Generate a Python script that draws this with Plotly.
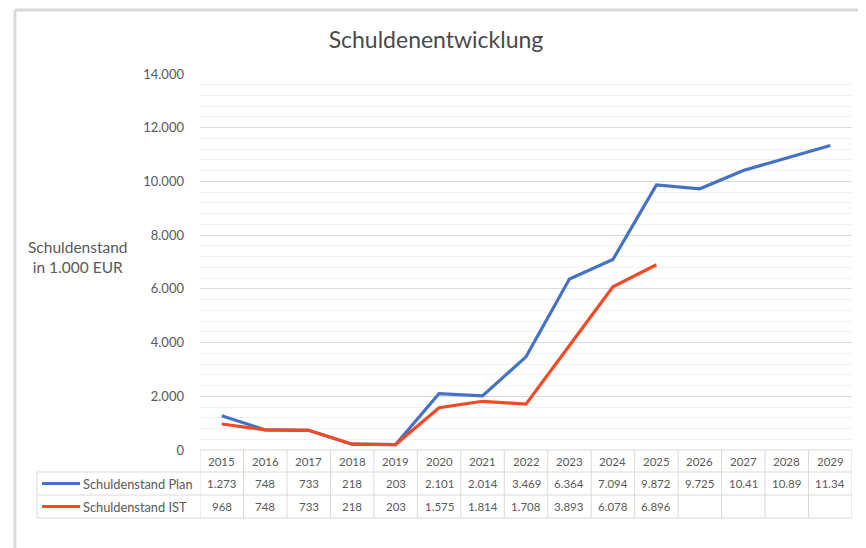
import plotly.graph_objects as go

years = [2015, 2016, 2017, 2018, 2019, 2020, 2021, 2022, 2023, 2024, 2025, 2026, 2027, 2028, 2029]
plan = [1273, 748, 733, 218, 203, 2101, 2014, 3469, 6364, 7094, 9872, 9725, 10410, 10890, 11340]
ist = [968, 748, 733, 218, 203, 1575, 1814, 1708, 3893, 6078, 6896]
series_names = ["Schuldenstand Plan", "Schuldenstand IST"]
title_text = "Schuldenentwicklung"
ytitle = "Schuldenstand<br>in 1.000 EUR"

# page has an 8px body margin; work in page pixel coordinates
OFF = 8
W, H = 866 - OFF, 548 - OFF
PL, PR, PT, PB = 200, 852, 74, 450  # plot area in page coords
FONT = "Lato, Calibri, Carlito, sans-serif"
TXT = "#595959"
GRID = "#d9d9d9"
BLUE = "#4472C4"
RED = "#F24A24"

def px(xp):
    return (xp - PL) / (PR - PL)

def py(yp):
    return (PB - yp) / (PB - PT)

def fmt(v):
    s = f"{v:,}".replace(",", ".")
    return s[:5]

cats = [str(y) for y in years]
idx = list(range(len(years)))

fig = go.Figure()
fig.add_trace(go.Scatter(x=idx, y=plan, mode="lines", name=series_names[0],
                         line=dict(color=BLUE, width=3.2)))
fig.add_trace(go.Scatter(x=idx[:len(ist)], y=ist, mode="lines", name=series_names[1],
                         line=dict(color=RED, width=3.2)))

shapes = []
annots = []
line_style = dict(color=GRID, width=1)
shapes.append(dict(type="line", xref="paper", yref="paper", x0=0, x1=1, y0=py(450), y1=py(450), line=line_style, layer="below"))
for yy in [472, 495, 518]:
    shapes.append(dict(type="line", xref="paper", yref="paper", x0=px(37), x1=1, y0=py(yy), y1=py(yy), line=line_style))
for i in range(len(years) + 1):
    shapes.append(dict(type="line", xref="x", yref="paper", x0=i - 0.5, x1=i - 0.5, y0=py(450), y1=py(518), line=line_style))
shapes.append(dict(type="line", xref="paper", yref="paper", x0=px(37), x1=px(37), y0=py(472), y1=py(518), line=line_style))

row_y = [py(461), py(483.5), py(506.5)]
tfont = dict(size=11.5, color=TXT, family=FONT)
for i, c in enumerate(cats):
    annots.append(dict(x=i, y=row_y[0], xref="x", yref="paper", text=c, showarrow=False,
                       yanchor="middle", font=tfont))
for i, v in enumerate(plan):
    annots.append(dict(x=i, y=row_y[1], xref="x", yref="paper", text=fmt(v), showarrow=False,
                       yanchor="middle", font=tfont))
for i, v in enumerate(ist):
    annots.append(dict(x=i, y=row_y[2], xref="x", yref="paper", text=fmt(v), showarrow=False,
                       yanchor="middle", font=tfont))
for k, (nm, col) in enumerate(zip(series_names, [BLUE, RED])):
    yk = row_y[k + 1]
    shapes.append(dict(type="line", xref="paper", yref="paper", x0=px(42), x1=px(80), y0=yk, y1=yk,
                       line=dict(color=col, width=3.2)))
    annots.append(dict(x=px(81), y=yk, xref="paper", yref="paper", text=nm, showarrow=False,
                       xanchor="left", yanchor="middle", font=dict(size=12.8, color=TXT, family=FONT)))
annots.append(dict(x=px(78), y=py(257), xref="paper", yref="paper", text=ytitle, showarrow=False,
                   xanchor="center", yanchor="middle",
                   font=dict(size=15.5, color=TXT, family=FONT), align="center"))
frame = dict(color="#d9d9d9", width=3)
shapes.append(dict(type="line", xref="paper", yref="paper", x0=px(15), x1=px(862), y0=py(10), y1=py(10), line=frame))
shapes.append(dict(type="line", xref="paper", yref="paper", x0=px(15), x1=px(15), y0=py(10), y1=py(560), line=frame))
shapes.append(dict(type="line", xref="paper", yref="paper", x0=px(862), x1=px(862), y0=py(10), y1=py(560), line=frame))

fig.update_layout(
    width=W, height=H,
    margin=dict(l=PL - OFF, r=W - (PR - OFF), t=PT - OFF, b=H - (PB - OFF), pad=0),
    paper_bgcolor="white", plot_bgcolor="white",
    separators=",.",
    showlegend=False,
    title=dict(text=title_text, x=(436 - OFF) / W, xref="container", xanchor="center",
               y=1 - (40 - OFF) / H, yanchor="middle", font=dict(size=23, color="#4a4a4a", family=FONT)),
    font=dict(family=FONT, color=TXT),
    shapes=shapes, annotations=annots,
)
fig.update_xaxes(range=[-0.5, len(years) - 0.5], showticklabels=False, showgrid=False,
                 zeroline=False, showline=False, fixedrange=True)
fig.update_yaxes(range=[0, 14000], dtick=2000, tickformat=",d", showgrid=True, gridcolor=GRID, gridwidth=1,
                 zeroline=False, showline=False, ticks="", ticklabelstandoff=15,
                 tickfont=dict(size=13, color=TXT, family=FONT),
                 minor=dict(dtick=400, showgrid=True, gridcolor="#f0f0f0", gridwidth=1))
fig.write_html("out.html")
